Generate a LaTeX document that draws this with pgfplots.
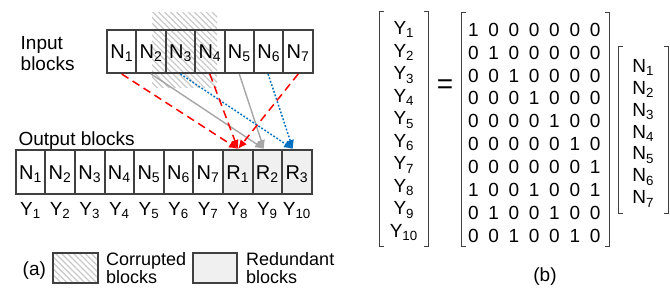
\documentclass[border=0pt]{standalone}
\usepackage{pgfplots}
\pgfplotsset{compat=1.18}
\usepackage{fontspec}
\setmainfont{Liberation Sans}
\usetikzlibrary{patterns.meta,arrows.meta}
\definecolor{bord}{HTML}{404040}
\definecolor{redun}{HTML}{F0F0F0}
\definecolor{hatchc}{HTML}{C8C8C8}
\definecolor{myred}{HTML}{FF0000}
\definecolor{mygray}{HTML}{A6A6A6}
\definecolor{myblue}{HTML}{0070C0}
\newcommand{\sub}[1]{\textsubscript{#1}}
\pgfplotsset{
  txt/.style={draw=none, mark=none, nodes near coords, point meta=explicit symbolic,
    nodes near coords style={anchor=base, inner sep=0pt, text=black, font=#1}},
  txtl/.style={draw=none, mark=none, nodes near coords, point meta=explicit symbolic,
    nodes near coords style={anchor=base west, inner sep=0pt, text=black, font=#1}},
}
\begin{document}
\begin{tikzpicture}
\begin{axis}[x=1pt, y=1pt, y dir=reverse, xmin=0, xmax=670, ymin=0, ymax=287,
  hide axis, clip=false]
% hatched (corrupted) region
\fill[pattern={Lines[angle=-45,distance=4.2pt,line width=1.2pt]}, pattern color=hatchc] (152,12) rectangle (217,87);
% input blocks
\pgfplotsinvokeforeach{0,...,6}{\draw[bord,line width=2pt] ({107+29.4*#1},30) rectangle ({136.4+29.4*#1},73);}
% output blocks
\pgfplotsinvokeforeach{0,...,6}{\draw[bord,line width=2pt,fill=white] ({15.7+29.6*#1},150) rectangle ({45.3+29.6*#1},194.3);}
\pgfplotsinvokeforeach{7,8,9}{\draw[bord,line width=2pt,fill=redun] ({15.7+29.6*#1},150) rectangle ({45.3+29.6*#1},194.3);}
% legend boxes
\fill[pattern={Lines[angle=-45,distance=4.2pt,line width=1.2pt]}, pattern color=hatchc] (53,253) rectangle (98,283);
\draw[bord,line width=2pt] (53,253) rectangle (98,283);
\draw[bord,line width=2pt,fill=redun] (192.7,253) rectangle (237.3,283);
% arrows
\addplot[mygray, line width=1.4pt, -{Latex[length=9pt,width=8pt]}] coordinates {(151.1,74) (264,149)};
\addplot[mygray, line width=1.4pt, -{Latex[length=9pt,width=8pt]}] coordinates {(239.3,74) (264,149)};
\addplot[myblue, line width=1.5pt, dash pattern=on 1.8pt off 1.8pt, -{Latex[length=9pt,width=8pt]}] coordinates {(180.5,74) (293,149)};
\addplot[myblue, line width=1.5pt, dash pattern=on 1.8pt off 1.8pt, -{Latex[length=9pt,width=8pt]}] coordinates {(268.1,74) (293,149)};
\addplot[myred, line width=1.5pt, dash pattern=on 8pt off 5pt, -{Latex[length=9pt,width=8pt]}] coordinates {(121.7,74) (238,149)};
\addplot[myred, line width=1.5pt, dash pattern=on 8pt off 5pt, -{Latex[length=9pt,width=8pt]}] coordinates {(209.8,74) (238,149)};
\addplot[myred, line width=1.5pt, dash pattern=on 8pt off 5pt, -{Latex[length=9pt,width=8pt]}] coordinates {(298.2,74) (238,149)};
% brackets (b)
\addplot[bord, line width=1.3pt] coordinates {(383.5,11.7) (379.3,11.7) (379.3,246.7) (383.5,246.7)};
\addplot[bord, line width=1.3pt] coordinates {(424,11.7) (428.3,11.7) (428.3,246.7) (424,246.7)};
\addplot[bord, line width=1.3pt] coordinates {(466,12.7) (461.7,12.7) (461.7,246.7) (466,246.7)};
\addplot[bord, line width=1.3pt] coordinates {(605,12.7) (609.3,12.7) (609.3,246.7) (605,246.7)};
\addplot[bord, line width=1.3pt] coordinates {(622.5,46.7) (618.3,46.7) (618.3,213.3) (622.5,213.3)};
\addplot[bord, line width=1.3pt] coordinates {(664,46.7) (668.3,46.7) (668.3,213.3) (664,213.3)};
% block texts
\addplot[txt={\fontsize{20}{22}\selectfont}] table[col sep=comma, row sep=\\, meta=t] {
x,y,t\\
121.7,58.5,N\sub{1}\\ 151.1,58.5,N\sub{2}\\ 180.5,58.5,N\sub{3}\\ 209.9,58.5,N\sub{4}\\
239.3,58.5,N\sub{5}\\ 268.7,58.5,N\sub{6}\\ 298.1,58.5,N\sub{7}\\
30.5,179.3,N\sub{1}\\ 60.1,179.3,N\sub{2}\\ 89.7,179.3,N\sub{3}\\ 119.3,179.3,N\sub{4}\\
148.9,179.3,N\sub{5}\\ 178.5,179.3,N\sub{6}\\ 208.1,179.3,N\sub{7}\\
237.7,179.3,R\sub{1}\\ 267.3,179.3,R\sub{2}\\ 296.9,179.3,R\sub{3}\\
};
\addplot[txt={\fontsize{19}{22}\selectfont}] table[col sep=comma, row sep=\\, meta=t] {
x,y,t\\
30.5,215,Y\sub{1}\\ 60.1,215,Y\sub{2}\\ 89.7,215,Y\sub{3}\\ 119.3,215,Y\sub{4}\\
148.9,215,Y\sub{5}\\ 178.5,215,Y\sub{6}\\ 208.1,215,Y\sub{7}\\
237.7,215,Y\sub{8}\\ 267.3,215,Y\sub{9}\\ 296.9,215,Y\sub{10}\\
545,281,(b)\\
};
\addplot[txtl={\fontsize{19}{22}\selectfont}] table[col sep=comma, row sep=\\, meta=t] {
x,y,t\\
20.5,49.3,Input\\ 20.5,70.7,blocks\\ 18.3,145.5,Output blocks\\
22.5,275,(a)\\
};
\addplot[txtl={\fontsize{18}{20}\selectfont}] table[col sep=comma, row sep=\\, meta=t] {
x,y,t\\
106,265,Corrupted\\ 106,283.5,blocks\\
246,265,Redundant\\ 246,283.5,blocks\\
};
% (b) vectors
\addplot[txt={\fontsize{19}{21}\selectfont}] table[col sep=comma, row sep=\\, meta=t] {
x,y,t\\
403.8,34.8,Y\sub{1}\\ 403.8,57.3,Y\sub{2}\\ 403.8,79.8,Y\sub{3}\\ 403.8,102.3,Y\sub{4}\\ 403.8,124.8,Y\sub{5}\\
403.8,147.3,Y\sub{6}\\ 403.8,169.8,Y\sub{7}\\ 403.8,192.3,Y\sub{8}\\ 403.8,214.8,Y\sub{9}\\ 403.8,237.3,Y\sub{10}\\
643.3,72.2,N\sub{1}\\ 643.3,94.1,N\sub{2}\\ 643.3,116.1,N\sub{3}\\ 643.3,138.0,N\sub{4}\\
643.3,159.9,N\sub{5}\\ 643.3,181.9,N\sub{6}\\ 643.3,203.8,N\sub{7}\\
};
\addplot[txt={\fontsize{28}{30}\selectfont}] table[col sep=comma, row sep=\\, meta=t] {
x,y,t\\
445,93,=\\
};
% matrix entries
\addplot[txt={\fontsize{19}{21}\selectfont}] table[col sep=comma, row sep=\\, meta=t] {
x,y,t\\
473.3,36.2,1\\ 493.6,36.2,0\\ 513.9,36.2,0\\ 534.2,36.2,0\\ 554.5,36.2,0\\ 574.8,36.2,0\\ 595.1,36.2,0\\
473.3,59.1,0\\ 493.6,59.1,1\\ 513.9,59.1,0\\ 534.2,59.1,0\\ 554.5,59.1,0\\ 574.8,59.1,0\\ 595.1,59.1,0\\
473.3,82.0,0\\ 493.6,82.0,0\\ 513.9,82.0,1\\ 534.2,82.0,0\\ 554.5,82.0,0\\ 574.8,82.0,0\\ 595.1,82.0,0\\
473.3,104.9,0\\ 493.6,104.9,0\\ 513.9,104.9,0\\ 534.2,104.9,1\\ 554.5,104.9,0\\ 574.8,104.9,0\\ 595.1,104.9,0\\
473.3,127.8,0\\ 493.6,127.8,0\\ 513.9,127.8,0\\ 534.2,127.8,0\\ 554.5,127.8,1\\ 574.8,127.8,0\\ 595.1,127.8,0\\
473.3,150.7,0\\ 493.6,150.7,0\\ 513.9,150.7,0\\ 534.2,150.7,0\\ 554.5,150.7,0\\ 574.8,150.7,1\\ 595.1,150.7,0\\
473.3,173.6,0\\ 493.6,173.6,0\\ 513.9,173.6,0\\ 534.2,173.6,0\\ 554.5,173.6,0\\ 574.8,173.6,0\\ 595.1,173.6,1\\
473.3,196.5,1\\ 493.6,196.5,0\\ 513.9,196.5,0\\ 534.2,196.5,1\\ 554.5,196.5,0\\ 574.8,196.5,0\\ 595.1,196.5,1\\
473.3,219.4,0\\ 493.6,219.4,1\\ 513.9,219.4,0\\ 534.2,219.4,0\\ 554.5,219.4,1\\ 574.8,219.4,0\\ 595.1,219.4,0\\
473.3,242.3,0\\ 493.6,242.3,0\\ 513.9,242.3,1\\ 534.2,242.3,0\\ 554.5,242.3,0\\ 574.8,242.3,1\\ 595.1,242.3,0\\
};
\end{axis}
\pgfresetboundingbox
\useasboundingbox (0,0) rectangle (670pt,287pt);
\end{tikzpicture}
\end{document}
